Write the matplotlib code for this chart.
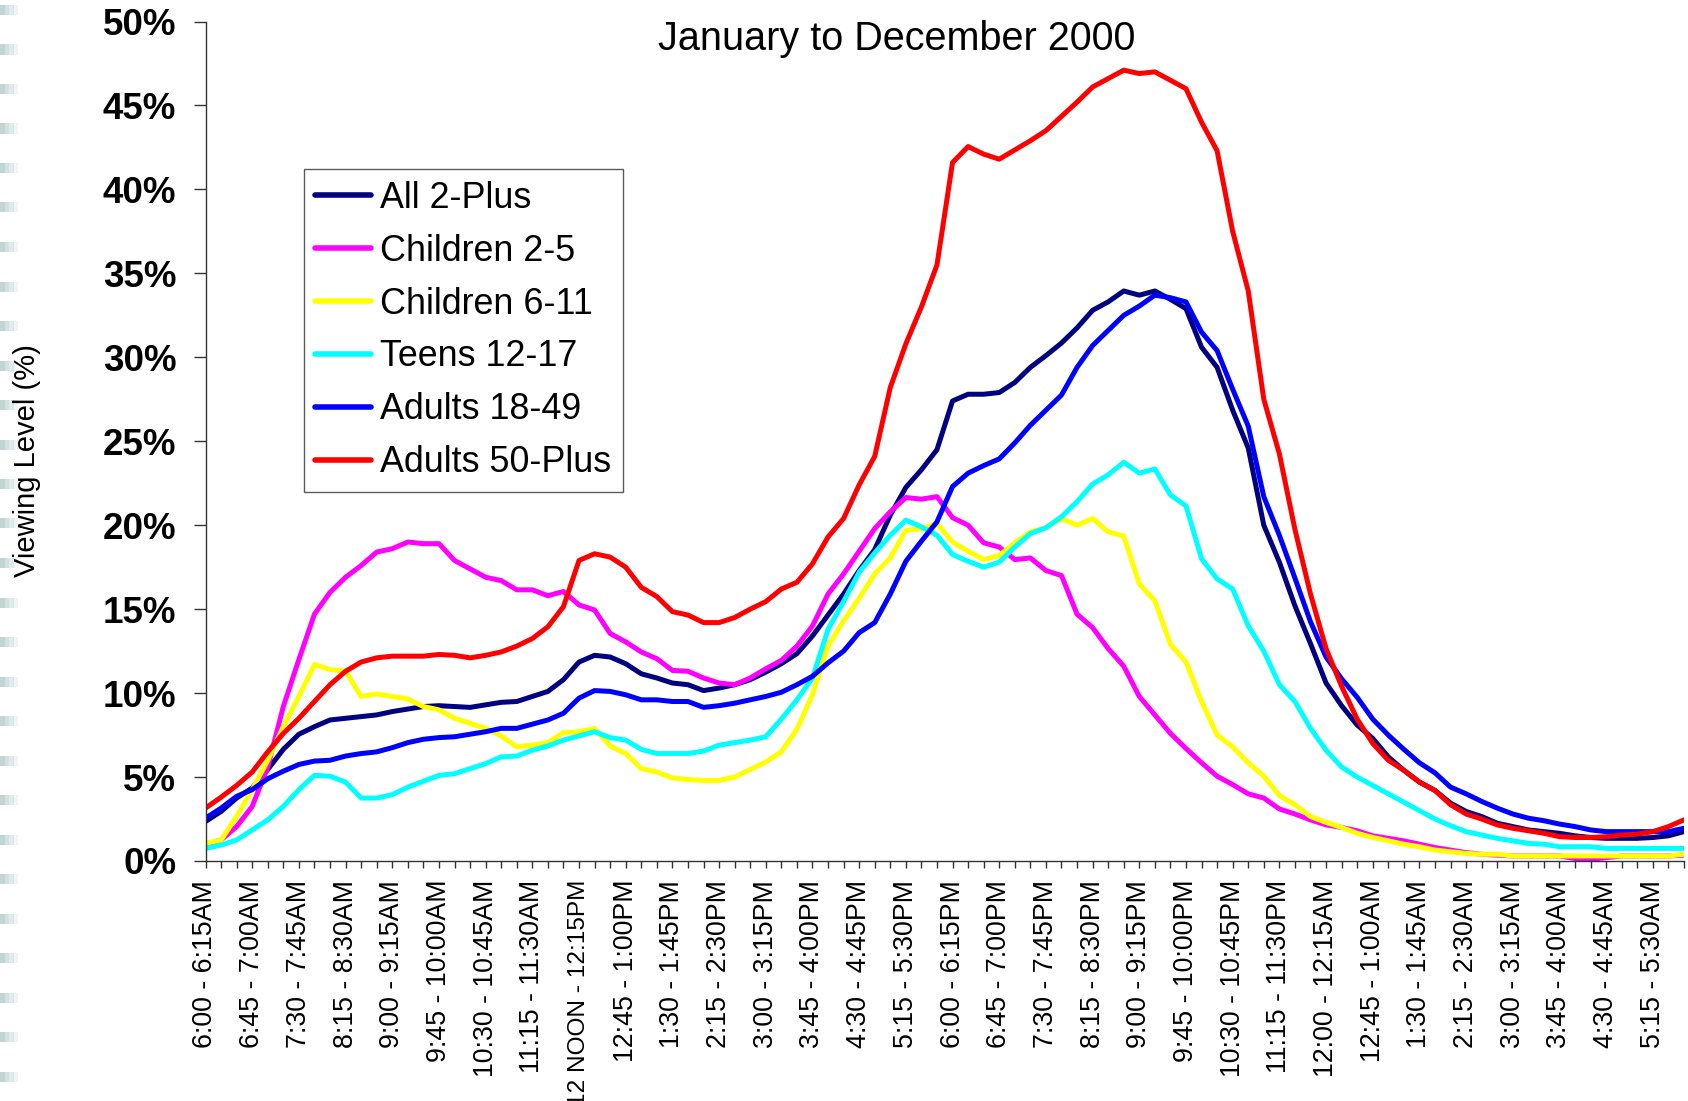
import numpy as np
import matplotlib
matplotlib.use("Agg")
from matplotlib import pyplot as plt
from matplotlib.patches import Rectangle

plt.rcParams["font.family"] = ["Liberation Sans", "DejaVu Sans"]

# viewing levels (%) per quarter hour, 6:00AM ... 5:45AM (96 slots)
all_2_plus = [2.35, 2.95, 3.75, 4.35, 5.45, 6.65, 7.55, 8.0, 8.4, 8.5, 8.6, 8.7, 8.9, 9.05, 9.2, 9.25, 9.2,
              9.15, 9.3, 9.45, 9.5, 9.8, 10.1, 10.8, 11.85, 12.25, 12.15, 11.75, 11.15, 10.9, 10.6, 10.5, 10.15,
              10.3, 10.5, 10.8, 11.25, 11.75, 12.35, 13.4, 14.65, 15.9, 17.3, 18.55, 20.6, 22.25, 23.3, 24.5, 27.4,
              27.8, 27.8, 27.9, 28.5, 29.4, 30.1, 30.85, 31.75, 32.8, 33.3, 33.95, 33.7, 33.95, 33.45, 32.9, 30.6,
              29.4, 26.85, 24.6, 20.0, 17.8, 15.2, 12.95, 10.6, 9.25, 8.1, 7.3, 6.2, 5.4, 4.7, 4.2, 3.45,
              2.95, 2.65, 2.25, 2.05, 1.85, 1.75, 1.65, 1.5, 1.4, 1.35, 1.35, 1.35, 1.4, 1.5, 1.75]
children_2_5 = [1.0, 1.25, 2.05, 3.25, 5.6, 9.2, 12.0, 14.7, 16.0, 16.9, 17.6, 18.4, 18.6, 19.0, 18.9, 18.9, 17.9,
                17.4, 16.9, 16.7, 16.15, 16.15, 15.8, 16.05, 15.25, 14.95, 13.55, 13.05, 12.45, 12.05, 11.35, 11.3, 10.9,
                10.6, 10.5, 10.9, 11.45, 11.95, 12.8, 14.0, 15.9, 17.1, 18.45, 19.8, 20.8, 21.65, 21.55, 21.7, 20.45,
                20.0, 18.95, 18.7, 17.95, 18.05, 17.3, 17.0, 14.7, 13.9, 12.65, 11.6, 9.8, 8.7, 7.6, 6.7, 5.85,
                5.05, 4.55, 4.0, 3.75, 3.1, 2.8, 2.45, 2.15, 2.0, 1.8, 1.5, 1.35, 1.2, 1.0, 0.8, 0.65,
                0.5, 0.4, 0.35, 0.3, 0.3, 0.3, 0.3, 0.15, 0.1, 0.2, 0.3, 0.3, 0.3, 0.3, 0.35]
children_6_11 = [1.05, 1.25, 2.65, 4.25, 6.0, 8.0, 9.8, 11.7, 11.4, 11.3, 9.8, 9.95, 9.8, 9.65, 9.2, 9.0, 8.5,
                 8.2, 7.9, 7.45, 6.8, 6.9, 7.05, 7.65, 7.7, 7.9, 6.85, 6.4, 5.5, 5.3, 4.95, 4.85, 4.8,
                 4.8, 5.0, 5.45, 5.9, 6.5, 7.85, 9.9, 12.8, 14.3, 15.65, 17.1, 18.05, 19.7, 19.8, 20.1, 19.0,
                 18.45, 17.95, 18.2, 18.95, 19.6, 19.85, 20.4, 20.0, 20.4, 19.6, 19.35, 16.5, 15.5, 12.9, 11.85, 9.5,
                 7.5, 6.8, 5.85, 5.05, 3.9, 3.35, 2.65, 2.3, 2.0, 1.65, 1.4, 1.2, 1.0, 0.85, 0.65, 0.55,
                 0.45, 0.4, 0.4, 0.3, 0.3, 0.3, 0.3, 0.3, 0.3, 0.3, 0.3, 0.3, 0.3, 0.3, 0.4]
teens_12_17 = [0.75, 0.95, 1.25, 1.85, 2.45, 3.25, 4.25, 5.1, 5.05, 4.7, 3.75, 3.75, 3.95, 4.4, 4.75, 5.1, 5.2,
               5.5, 5.8, 6.2, 6.25, 6.6, 6.85, 7.2, 7.45, 7.7, 7.35, 7.2, 6.65, 6.4, 6.4, 6.4, 6.55,
               6.9, 7.05, 7.2, 7.4, 8.45, 9.6, 10.9, 13.8, 15.45, 17.2, 18.35, 19.4, 20.3, 19.9, 19.4, 18.25,
               17.85, 17.5, 17.8, 18.7, 19.5, 19.85, 20.5, 21.4, 22.45, 23.0, 23.75, 23.1, 23.35, 21.8, 21.15, 18.0,
               16.8, 16.2, 14.0, 12.5, 10.5, 9.5, 7.9, 6.6, 5.6, 5.0, 4.5, 4.0, 3.5, 3.0, 2.5, 2.1,
               1.75, 1.55, 1.35, 1.2, 1.05, 1.0, 0.85, 0.85, 0.85, 0.75, 0.75, 0.75, 0.75, 0.75, 0.75]
adults_18_49 = [2.55, 3.15, 3.85, 4.25, 4.9, 5.35, 5.75, 5.95, 6.0, 6.25, 6.4, 6.5, 6.75, 7.05, 7.25, 7.35, 7.4,
                7.55, 7.7, 7.9, 7.9, 8.15, 8.4, 8.8, 9.7, 10.15, 10.1, 9.9, 9.6, 9.6, 9.5, 9.5, 9.15,
                9.25, 9.4, 9.6, 9.8, 10.05, 10.5, 11.0, 11.8, 12.5, 13.6, 14.2, 15.9, 17.85, 19.05, 20.2, 22.3,
                23.1, 23.55, 23.95, 24.9, 25.95, 26.85, 27.75, 29.4, 30.7, 31.6, 32.5, 33.05, 33.7, 33.55, 33.3, 31.5,
                30.4, 28.1, 25.9, 21.7, 19.4, 16.85, 14.25, 12.15, 10.85, 9.75, 8.45, 7.5, 6.65, 5.85, 5.25, 4.4,
                4.0, 3.55, 3.15, 2.8, 2.55, 2.4, 2.2, 2.05, 1.85, 1.75, 1.75, 1.75, 1.75, 1.75, 1.95]
adults_50_plus = [3.15, 3.8, 4.5, 5.3, 6.5, 7.6, 8.5, 9.5, 10.5, 11.3, 11.85, 12.1, 12.2, 12.2, 12.2, 12.3, 12.25,
                  12.1, 12.25, 12.45, 12.8, 13.25, 13.95, 15.15, 17.9, 18.3, 18.1, 17.5, 16.3, 15.75, 14.85, 14.65, 14.2,
                  14.2, 14.5, 15.0, 15.45, 16.2, 16.6, 17.7, 19.3, 20.4, 22.4, 24.1, 28.2, 30.8, 33.0, 35.5, 41.6,
                  42.55, 42.1, 41.8, 42.35, 42.9, 43.5, 44.35, 45.2, 46.1, 46.6, 47.1, 46.9, 47.0, 46.5, 46.0, 44.0,
                  42.3, 37.5, 33.95, 27.5, 24.25, 19.75, 15.9, 12.65, 10.4, 8.45, 7.0, 6.0, 5.4, 4.7, 4.2, 3.35,
                  2.8, 2.5, 2.15, 1.95, 1.8, 1.65, 1.45, 1.4, 1.4, 1.45, 1.55, 1.6, 1.75, 2.05, 2.45]

series_names = ["All 2-Plus", "Children 2-5", "Children 6-11", "Teens 12-17", "Adults 18-49", "Adults 50-Plus"]
series_colors = ["#000080", "#FF00FF", "#FFFF00", "#00FFFF", "#0000FF", "#FF0000"]

# every third quarter hour is labelled
x_tick_labels = ["6:00 - 6:15AM", "6:45 - 7:00AM", "7:30 - 7:45AM", "8:15 - 8:30AM", "9:00 - 9:15AM",
                 "9:45 - 10:00AM", "10:30 - 10:45AM", "11:15 - 11:30AM", "12 NOON - 12:15PM", "12:45 - 1:00PM",
                 "1:30 - 1:45PM", "2:15 - 2:30PM", "3:00 - 3:15PM", "3:45 - 4:00PM", "4:30 - 4:45PM",
                 "5:15 - 5:30PM", "6:00 - 6:15PM", "6:45 - 7:00PM", "7:30 - 7:45PM", "8:15 - 8:30PM",
                 "9:00 - 9:15PM", "9:45 - 10:00PM", "10:30 - 10:45PM", "11:15 - 11:30PM", "12:00 - 12:15AM",
                 "12:45 - 1:00AM", "1:30 - 1:45AM", "2:15 - 2:30AM", "3:00 - 3:15AM", "3:45 - 4:00AM",
                 "4:30 - 4:45AM", "5:15 - 5:30AM"]
y_ticks = [0, 5, 10, 15, 20, 25, 30, 35, 40, 45, 50]
y_tick_labels = ["0%", "5%", "10%", "15%", "20%", "25%", "30%", "35%", "40%", "45%", "50%"]

fig = plt.figure(figsize=(16.88, 11.01), dpi=100)

# slide background decoration on the left edge
for k in range(28):
    yy = 1 - (10 + k * 39.5) / 1101
    for j, a in enumerate([0.55, 0.4, 0.25, 0.12]):
        fig.patches.append(Rectangle((j * 4.5 / 1688, yy - 5 / 1101), 4.5 / 1688, 10 / 1101,
                                     transform=fig.transFigure, facecolor="#8fb3b3", alpha=a,
                                     edgecolor="none"))

ax = fig.add_axes([205.5 / 1688, 1 - 861 / 1101, 1478.5 / 1688, 839.5 / 1101])

x = np.arange(len(all_2_plus))
data = [all_2_plus, children_2_5, children_6_11, teens_12_17, adults_18_49, adults_50_plus]
for vals, name, col in zip(data, series_names, series_colors):
    ax.plot(x, vals, color=col, lw=3.6, label=name, solid_capstyle="round", solid_joinstyle="round")

ax.set_xlim(0, len(x) - 1)
ax.set_ylim(0, 50)

ax.set_xticks(x[::3])
ax.set_xticklabels(x_tick_labels, rotation=90, fontsize=19.3, va="top", ha="center")
# the noon label runs off the bottom of the slide, set a touch smaller like the original
ax.get_xticklabels()[8].set_fontsize(17.6)
ax.set_xticks(x, minor=True)
ax.tick_params(axis="x", which="both", direction="out", length=5, width=1, pad=8.5, colors="#333333",
               labelcolor="black")

ax.set_yticks(y_ticks)
ax.set_yticklabels(y_tick_labels, fontsize=26.5, fontweight="bold")
ax.tick_params(axis="y", direction="out", length=9, width=1, pad=12, colors="#333333", labelcolor="black")

for s in ["top", "right"]:
    ax.spines[s].set_visible(False)
for s in ["left", "bottom"]:
    ax.spines[s].set_color("#333333")
    ax.spines[s].set_linewidth(1)

fig.text(27 / 1688, 0.582, "Viewing Level (%)", rotation=90, ha="center", va="center", fontsize=21)
fig.text(0.531, 1 - 38.5 / 1101, "January to December 2000", ha="center", va="center", fontsize=28.5)

leg = ax.legend(loc="upper left", bbox_to_anchor=(0.0664, 0.824), borderaxespad=0, fontsize=25.8,
                frameon=True, fancybox=False, handlelength=1.55, handletextpad=0.26,
                labelspacing=0.5, borderpad=0.32)
leg.get_frame().set_edgecolor("#333333")
leg.get_frame().set_linewidth(1)
for line in leg.get_lines():
    line.set_linewidth(4)

fig.savefig("out.png", dpi=100)
